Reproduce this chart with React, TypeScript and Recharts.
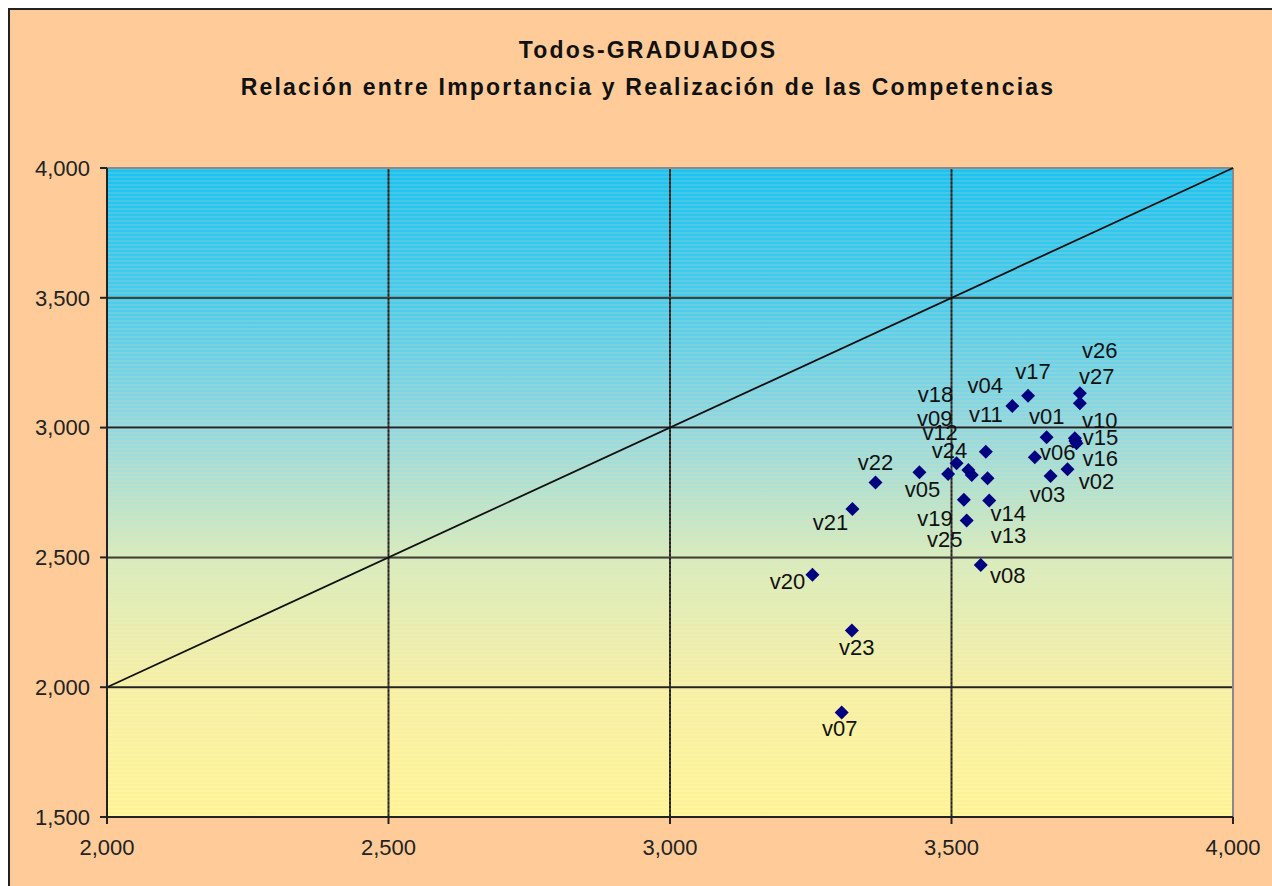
import {
  ScatterChart,
  Scatter,
  XAxis,
  YAxis,
  CartesianGrid,
  ReferenceLine,
  ReferenceArea,
} from 'recharts';

const competencias = [
  'v01', 'v02', 'v03', 'v04', 'v05', 'v06', 'v07', 'v08', 'v09',
  'v10', 'v11', 'v12', 'v13', 'v14', 'v15', 'v16', 'v17', 'v18',
  'v19', 'v20', 'v21', 'v22', 'v23', 'v24', 'v25', 'v26', 'v27',
];

// importancia (eje X)
const importancia = [
  3.669, 3.706, 3.676, 3.608, 3.443, 3.648, 3.305, 3.552, 3.536,
  3.719, 3.561, 3.494, 3.564, 3.567, 3.722, 3.720, 3.636, 3.530,
  3.522, 3.253, 3.324, 3.365, 3.323, 3.509, 3.527, 3.728, 3.728,
];

// realizacion (eje Y)
const realizacion = [
  2.963, 2.840, 2.814, 3.083, 2.828, 2.886, 1.903, 2.471, 2.817,
  2.959, 2.907, 2.821, 2.805, 2.719, 2.940, 2.948, 3.123, 2.837,
  2.722, 2.433, 2.686, 2.789, 2.218, 2.863, 2.642, 3.132, 3.094,
];

const xTicks = [2, 2.5, 3, 3.5, 4];
const yTicks = [1.5, 2, 2.5, 3, 3.5, 4];

// label placement (px) relative to each marker, as moved by hand in the original
const labelOffsets: Record<string, [number, number]> = {
  v01: [0, -21], v02: [29, 12], v03: [-3, 19], v04: [-27, -21],
  v05: [3, 17], v06: [23, -5], v07: [-2, 16], v08: [27, 11],
  v09: [-37, -57], v10: [25, -18], v11: [0, -37], v12: [-8, -42],
  v13: [21, 57], v14: [19, 13], v15: [24, -6], v16: [25, 17],
  v17: [5, -24], v18: [-33, -75], v19: [-29, 19], v20: [-25, 7],
  v21: [-22, 13], v22: [0, -20], v23: [5, 17], v24: [-7, -13],
  v25: [-22, 19], v26: [20, -43], v27: [17, -27],
};

const data = competencias.map((name, i) => ({
  name,
  x: importancia[i],
  y: realizacion[i],
}));

const FONT = '"Liberation Sans", Arial, sans-serif';
const fmt = (v: number) => v.toFixed(3).replace('.', ',');

function Diamond(props: any) {
  const { cx, cy, payload } = props;
  const r = 7;
  const [dx, dy] = labelOffsets[payload.name] || [0, 0];
  return (
    <g>
      <polygon
        points={`${cx},${cy - r} ${cx + r},${cy} ${cx},${cy + r} ${cx - r},${cy}`}
        fill="#000080"
      />
      <text
        x={cx + dx}
        y={cy + dy}
        textAnchor="middle"
        dominantBaseline="central"
        fontFamily={FONT}
        fontSize={22}
        fill="#111"
      >
        {payload.name}
      </text>
    </g>
  );
}

export default function App() {
  const yAxisWidth = 100;
  const xAxisHeight = 60;
  return (
    <div
      style={{
        position: 'absolute',
        left: 0,
        top: 0,
        width: 1272,
        height: 886,
        overflow: 'hidden',
        background: '#fff',
      }}
    >
      <svg width={0} height={0} style={{ position: 'absolute' }}>
        <defs>
          <linearGradient id="plotBg" x1="0" y1="0" x2="0" y2="1">
            <stop offset="0%" stopColor="#19C3F3" />
            <stop offset="20%" stopColor="#48CCEE" />
            <stop offset="40%" stopColor="#90D9E2" />
            <stop offset="60%" stopColor="#D6EDC0" />
            <stop offset="80%" stopColor="#F6F2A8" />
            <stop offset="100%" stopColor="#FFF799" />
          </linearGradient>
          <pattern id="stripes" width="8" height="4" patternUnits="userSpaceOnUse">
            <rect x="0" y="0" width="8" height="2" fill="rgba(255,210,160,0.16)" />
          </pattern>
        </defs>
      </svg>
      <div
        style={{
          position: 'absolute',
          left: 8,
          top: 8,
          width: 1300,
          height: 900,
          background: '#FFCC99',
          border: '2px solid #222',
        }}
      />
      <div
        style={{
          position: 'absolute',
          left: 0,
          width: 1296,
          top: 32,
          textAlign: 'center',
          fontFamily: FONT,
          fontWeight: 'bold',
          fontSize: 23,
          letterSpacing: 2.2,
          lineHeight: '37px',
          color: '#111',
        }}
      >
        <div>Todos-GRADUADOS</div>
        <div>Relación entre Importancia y Realización de las Competencias</div>
      </div>
      <div style={{ position: 'absolute', left: 0, top: 0 }}>
        <ScatterChart
          width={1272}
          height={886}
          margin={{ top: 168, right: 39, bottom: 886 - 817 - xAxisHeight, left: 107 - yAxisWidth }}
        >
          <CartesianGrid
            stroke="#222"
            strokeWidth={2}
            fill="url(#plotBg)"
            fillOpacity={1}
          />
          <ReferenceArea
            x1={2}
            x2={4}
            y1={1.5}
            y2={4}
            fill="url(#stripes)"
            fillOpacity={1}
            stroke="none"
          />
          <ReferenceLine y={4} stroke="#8a8a8a" strokeWidth={2} />
          <ReferenceLine x={4} stroke="#8a8a8a" strokeWidth={2} />
          <XAxis
            type="number"
            dataKey="x"
            domain={[2, 4]}
            ticks={xTicks}
            tickFormatter={fmt}
            height={xAxisHeight}
            axisLine={{ stroke: '#222', strokeWidth: 2 }}
            tickLine={{ stroke: '#222', strokeWidth: 2 }}
            tickSize={7}
            tickMargin={15}
            tick={{ fill: '#222', fontSize: 22, fontFamily: FONT }}
            interval={0}
          />
          <YAxis
            type="number"
            dataKey="y"
            domain={[1.5, 4]}
            ticks={yTicks}
            tickFormatter={fmt}
            width={yAxisWidth}
            axisLine={{ stroke: '#222', strokeWidth: 2 }}
            tickLine={{ stroke: '#222', strokeWidth: 2 }}
            tickSize={7}
            tickMargin={10}
            tick={{ fill: '#222', fontSize: 22, fontFamily: FONT }}
            interval={0}
          />
          <ReferenceLine
            segment={[
              { x: 2, y: 2 },
              { x: 4, y: 4 },
            ]}
            stroke="#111"
            strokeWidth={1.8}
          />
          <Scatter data={data} shape={Diamond} isAnimationActive={false} />
        </ScatterChart>
      </div>
    </div>
  );
}
